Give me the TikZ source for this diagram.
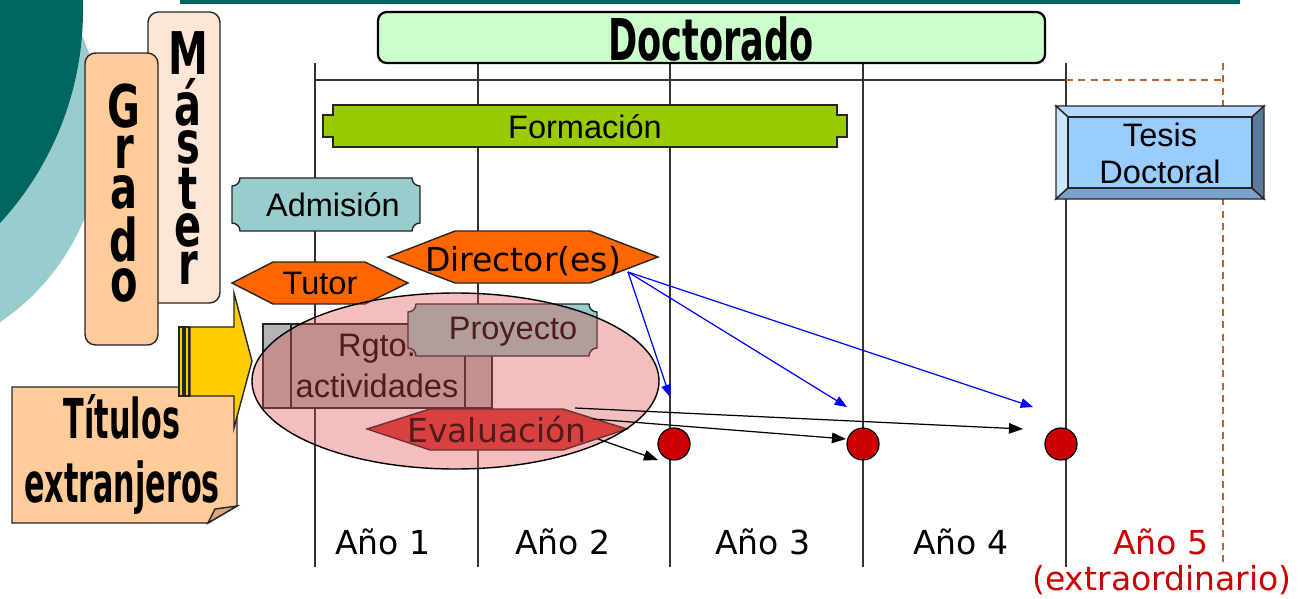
\documentclass[tikz,border=0pt]{standalone}
\usepackage{fontspec}
\setmainfont{Liberation Sans}
\newfontfamily\dv{DejaVu Sans}
\newfontfamily\agA[FakeStretch=0.61]{DejaVu Sans}
\newfontfamily\agC[FakeStretch=0.68]{DejaVu Sans}
\newfontfamily\agB[FakeStretch=0.55]{DejaVu Sans}
\usetikzlibrary{arrows.meta}
\definecolor{dteal}{HTML}{006660}
\definecolor{lteal}{HTML}{99CCCC}
\definecolor{docgreen}{HTML}{CCFFCC}
\definecolor{formgreen}{HTML}{99CC00}
\definecolor{peach}{HTML}{FFCC99}
\definecolor{masterc}{HTML}{FDE6D6}
\definecolor{orangec}{HTML}{FF6600}
\definecolor{evalred}{HTML}{D63A3A}
\definecolor{rgtogray}{HTML}{B5B5B5}
\definecolor{pinkc}{HTML}{E04C4C}
\definecolor{yel}{HTML}{FFCC00}
\definecolor{flapc}{HTML}{D9A878}
\definecolor{dotred}{HTML}{CC0000}
\definecolor{dashc}{HTML}{C0602A}
\definecolor{redtext}{HTML}{CC0000}
\definecolor{bvtop}{HTML}{B3D7FF}
\definecolor{bvleft}{HTML}{CCE6FF}
\definecolor{bvbot}{HTML}{7AA3CC}
\definecolor{bvright}{HTML}{5C7A99}
\definecolor{bvin}{HTML}{99CCFF}
\newcommand\myplaque[6]{%
 \path[#1] (#2+#6,#3) -- (#4-#6,#3) .. controls (#4-#6,#3+0.552*#6) and (#4-0.552*#6,#3+#6) .. (#4,#3+#6)
  -- (#4,#5-#6) .. controls (#4-0.552*#6,#5-#6) and (#4-#6,#5-0.552*#6) .. (#4-#6,#5)
  -- (#2+#6,#5) .. controls (#2+#6,#5-0.552*#6) and (#2+0.552*#6,#5-#6) .. (#2,#5-#6)
  -- (#2,#3+#6) .. controls (#2+0.552*#6,#3+#6) and (#2+#6,#3+0.552*#6) .. (#2+#6,#3) -- cycle;}
\begin{document}
\begin{tikzpicture}[x=0.02cm,y=-0.02cm,
  every node/.style={inner sep=0pt, outer sep=0pt},
  shp/.style={draw=black!85, line width=0.8pt},
  arial/.style={font=\fontsize{18.5}{21}\selectfont},
  verd/.style={font=\dv\fontsize{18.8}{21}\selectfont},
  gridline/.style={draw=black!80, line width=0.8pt},
  dashgrid/.style={draw=dashc, line width=0.9pt, dash pattern=on 4pt off 3pt},
  bluearr/.style={draw=blue, line width=0.7pt, -{Triangle[length=7pt,width=5.5pt]}},
  blackarr/.style={draw=black, line width=0.7pt, -{Triangle[length=8pt,width=6pt]}},
  reddot/.style={circle, draw=black, line width=0.7pt, fill=dotred, minimum size=0.64cm},
  vcolG/.style={align=center, anchor=north, font={\agC\bfseries\fontsize{33.5}{0}\selectfont\lineskiplimit=0pt\lineskip=4pt}},
  vcolM/.style={align=center, anchor=north, font={\agC\bfseries\fontsize{33.5}{0}\selectfont\lineskiplimit=0pt\lineskip=2.2pt}},
  bigcond/.style={font=\agB\bfseries\fontsize{31.3}{36}\selectfont},
]
\useasboundingbox (0,0) rectangle (1303,599);
% background
\begin{scope}
\clip (0,0) rectangle (1303,599);
\fill[lteal] (-130,130) circle [radius=232];
\fill[dteal] (-232,10) circle [radius=315];
\end{scope}
\fill[dteal] (180,0) rectangle (1240,4);
% grid
\foreach \gx in {315,478,670,863,1066} \draw[gridline] (\gx,63) -- (\gx,567);
\draw[gridline] (315,80) -- (1066,80);
\draw[dashgrid] (1066,80) -- (1223,80);
\draw[dashgrid] (1223,63) -- (1223,563);
% Doctorado
\draw[fill=docgreen, line width=1.3pt, rounded corners=5pt] (378,12) rectangle (1045,63);
\node[font=\agA\bfseries\fontsize{32.8}{36}\selectfont] (doc) at (711,39) {Doctorado};
% Master
\draw[shp, fill=masterc, rounded corners=6pt] (148,12) rectangle (220,303);
\node[vcolM] (master) at (188,32) {M\\á\\s\\t\\e\\r};
% Grado
\draw[shp, fill=peach, rounded corners=6pt] (85,53) rectangle (158,345);
\node[vcolG] (grado) at (124,84) {G\\r\\a\\d\\o};
% Formacion
\draw[shp, fill=formgreen] (333,105) -- (837,105) -- (837,115) -- (847,115) -- (847,137) -- (837,137) -- (837,147) -- (333,147) -- (333,137) -- (323,137) -- (323,115) -- (333,115) -- cycle;
\node[arial] (form) at (585,127) {Formación};
% Tesis
\draw[shp, fill=bvtop] (1056,106) -- (1264,106) -- (1252,117) -- (1068,117) -- cycle;
\draw[shp, fill=bvleft] (1056,106) -- (1068,117) -- (1068,188) -- (1056,199) -- cycle;
\draw[shp, fill=bvbot] (1056,199) -- (1068,188) -- (1252,188) -- (1264,199) -- cycle;
\draw[shp, fill=bvright] (1264,106) -- (1264,199) -- (1252,188) -- (1252,117) -- cycle;
\draw[shp, fill=bvin] (1068,117) rectangle (1252,188);
\node[font=\fontsize{18.5}{21}\selectfont, align=center] (tesis) at (1160,153) {Tesis\\Doctoral};
% Admision
\myplaque{shp, fill=lteal}{232}{178}{420}{231}{8}
\node[arial] (adm) at (333,205) {Admisión};
% Tutor
\draw[shp, fill=orangec] (232,283) -- (273,262) -- (365,262) -- (408,283) -- (365,304) -- (273,304) -- cycle;
\node[arial] (tut) at (320,283) {Tutor};
% Director
\draw[shp, fill=orangec] (388,257) -- (455,231) -- (590,231) -- (658,257) -- (590,283) -- (455,283) -- cycle;
\node[verd] (dir) at (523,261) {Director(es)};
% Rgto
\draw[shp, fill=rgtogray] (263,324) rectangle (492,408);
\draw[shp] (291,324) -- (291,408);
\draw[shp] (465,324) -- (465,408);
\node[font=\fontsize{18.5}{22.8}\selectfont, align=center] (rgto) at (377,366) {Rgto.\\actividades};
% Proyecto
\myplaque{shp, fill=lteal}{408}{304}{597}{356}{8}
\node[arial] (proy) at (513,332) {Proyecto};
% Evaluacion
\draw[shp, fill=evalred] (367,429) -- (430,409) -- (563,409) -- (627,429) -- (563,450) -- (430,450) -- cycle;
\node[verd] (eval) at (497,430) {Evaluación};
% ellipse overlay
\fill[pinkc, opacity=0.36] (455.5,381) ellipse [x radius=203.5, y radius=88];
\draw[line width=0.8pt] (455.5,381) ellipse [x radius=203.5, y radius=88];
% dots
\node[reddot] (d1) at (674,444) {};
\node[reddot] (d2) at (863,444) {};
\node[reddot] (d3) at (1061,444) {};
% arrows
\coordinate (dirp) at (628,272);
\coordinate (t1) at (670,397);
\coordinate (t2) at (847,407);
\coordinate (t3) at (1033,407);
\draw[bluearr] (dirp) -- (t1);
\draw[bluearr] (dirp) -- (t2);
\draw[bluearr] (dirp) -- (t3);
\coordinate (eA) at (575,408);
\coordinate (eB) at (593,419);
\coordinate (eC) at (598,439);
\coordinate (u1) at (1023,429);
\coordinate (u2) at (846,439);
\coordinate (u3) at (658,460);
\draw[blackarr] (eA) -- (u1);
\draw[blackarr] (eB) -- (u2);
\draw[blackarr] (eC) -- (u3);
% Titulos extranjeros
\draw[shp, fill=peach] (12,387) -- (237,387) -- (237,506) -- (208,523) -- (12,523) -- cycle;
\draw[shp, fill=flapc] (208,523) -- (215,509) -- (237,506) -- cycle;
\node[bigcond, anchor=base] (tit1) at (122,438) {Títulos};
\node[bigcond, anchor=base] (tit2) at (122,502) {extranjeros};
% yellow arrow
\draw[shp, fill=yel] (179,327) rectangle (183,396);
\draw[shp, fill=yel] (185,327) rectangle (189,396);
\draw[shp, fill=yel] (190,327) -- (234,327) -- (234,293) -- (252,361) -- (234,428) -- (234,396) -- (190,396) -- cycle;
% years
\node[verd] (a1) at (383,542) {Año 1};
\node[verd] (a2) at (563,542) {Año 2};
\node[verd] (a3) at (763,542) {Año 3};
\node[verd] (a4) at (961,542) {Año 4};
\node[verd, text=redtext] (a5) at (1161,542) {Año 5};
\node[verd, text=redtext] (a5b) at (1162,580) {(extraordinario)};
\end{tikzpicture}
\end{document}
